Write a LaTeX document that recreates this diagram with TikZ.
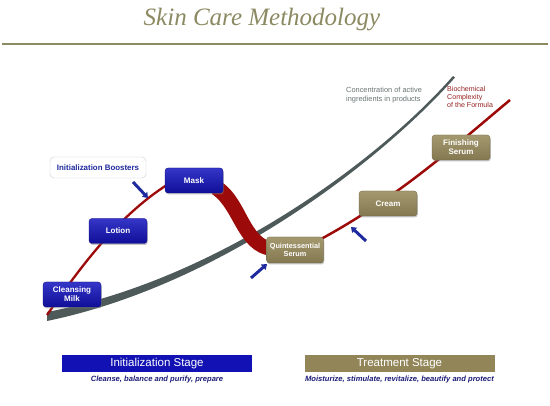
\documentclass[tikz,border=0pt]{standalone}
\usepackage{fontspec}
\setmainfont{Liberation Serif}
\setsansfont{Liberation Sans}
\usetikzlibrary{shadows,arrows.meta}
\definecolor{olive}{HTML}{9A8D5E}
\definecolor{titleol}{HTML}{8C8A62}
\definecolor{bblue}{HTML}{1212BE}
\definecolor{dred}{HTML}{9C0A0A}
\definecolor{ggray}{HTML}{4E5A5A}
\definecolor{navy}{HTML}{1C1C78}
\definecolor{arrblue}{HTML}{1E2A9E}
\tikzset{
  prodbox/.style={rounded corners=3pt, minimum width=58pt, minimum height=25pt, align=center,
    font=\sffamily\bfseries\fontsize{8}{9}\selectfont, text=white, inner sep=1pt,
    drop shadow={opacity=0.45, shadow xshift=0.8pt, shadow yshift=-1.5pt}},
  bluebox/.style={prodbox, top color=bblue!85!white, bottom color=bblue!80!black, draw=bblue!70!black, line width=0.3pt},
  olivebox/.style={prodbox, top color=olive!90!white, bottom color=olive!85!black, draw=olive!70!black, line width=0.3pt},
  hint/.style={arrblue, line width=3pt, -{Triangle[length=5pt,width=7pt]}},
  stagebar/.style={minimum width=190pt, minimum height=17pt, inner sep=0pt, text=white, font=\sffamily\fontsize{11.5}{12}\selectfont},
  stagesub/.style={text=navy, font=\sffamily\bfseries\itshape\fontsize{7.6}{8.5}\selectfont}
}
\begin{document}
\begin{tikzpicture}[x=1pt,y=-1pt]
\useasboundingbox[fill=white] (0,0) rectangle (550,406);
% title
\node[text=titleol, font=\itshape\fontsize{25}{28}\selectfont] (title) at (262,20) {Skin Care Methodology};
\coordinate (rl) at (2,44);
\coordinate (rr) at (548,44);
\draw[titleol, line width=1.6pt] (rl) -- (rr);
% gray curve (tapered)
\fill[ggray] (47,312) .. controls (220,279) and (380,159) .. (453,76) -- (455,77.5) .. controls (381,161) and (221,285) .. (47,321) -- cycle;
% red curve
\draw[dred, line width=2.3pt] (47,315) .. controls (80,268) and (120,212) .. (175,180);
\fill[dred] (214,178) .. controls (248,192) and (246,242) .. (278,243) -- (278,256) .. controls (238,258) and (236,210) .. (212,194) -- cycle;
\draw[dred, line width=2.5pt] (300,250) .. controls (390,205) and (450,150) .. (510,100);
% labels of curves
\node[anchor=north west, align=left, inner sep=0pt, text=ggray!85!white, font=\sffamily\fontsize{7.4}{8.6}\selectfont] (conc) at (346,87) {Concentration of active\\ingredients in products};
\node[anchor=north west, align=left, inner sep=0pt, text=dred!80!gray, font=\sffamily\fontsize{7.1}{8}\selectfont] (bio) at (447,86) {Biochemical\\Complexity\\of the Formula};
% boxes
\node[rounded corners=4pt, draw=gray!40, fill=white, minimum width=96pt, minimum height=21pt, text=arrblue, font=\sffamily\bfseries\fontsize{7.9}{9}\selectfont] (boost) at (98,167.5) {Initialization Boosters};
\node[bluebox] (milk) at (72,294.5) {Cleansing\\Milk};
\node[bluebox] (lotion) at (118,231) {Lotion};
\node[bluebox] (mask) at (194,180.5) {Mask};
\node[olivebox, minimum width=57pt, minimum height=26pt, font=\sffamily\bfseries\fontsize{7.3}{8.6}\selectfont] (quint) at (295,250) {Quintessential\\Serum};
\node[olivebox] (cream) at (388,203.5) {Cream};
\node[olivebox] (finish) at (461,147.5) {Finishing\\Serum};
% hint arrows
\coordinate (a1s) at (133,182);
\coordinate (a1e) at (148,198);
\draw[hint] (a1s) -- (a1e);
\coordinate (a2s) at (251,278);
\coordinate (a2e) at (267,264);
\draw[hint] (a2s) -- (a2e);
\coordinate (a3s) at (366,241);
\coordinate (a3e) at (351,227);
\draw[hint] (a3s) -- (a3e);
% stage bars
\node[stagebar, fill=bblue!95!black] (init) at (157,363.5) {Initialization Stage};
\node[stagebar, fill=olive!95!black] (treat) at (399.5,363.5) {Treatment Stage};
\node[stagesub] (initsub) at (157,380) {Cleanse, balance and purify, prepare};
\node[stagesub] (treatsub) at (399.5,380) {Moisturize, stimulate, revitalize, beautify and protect};
\end{tikzpicture}
\end{document}
